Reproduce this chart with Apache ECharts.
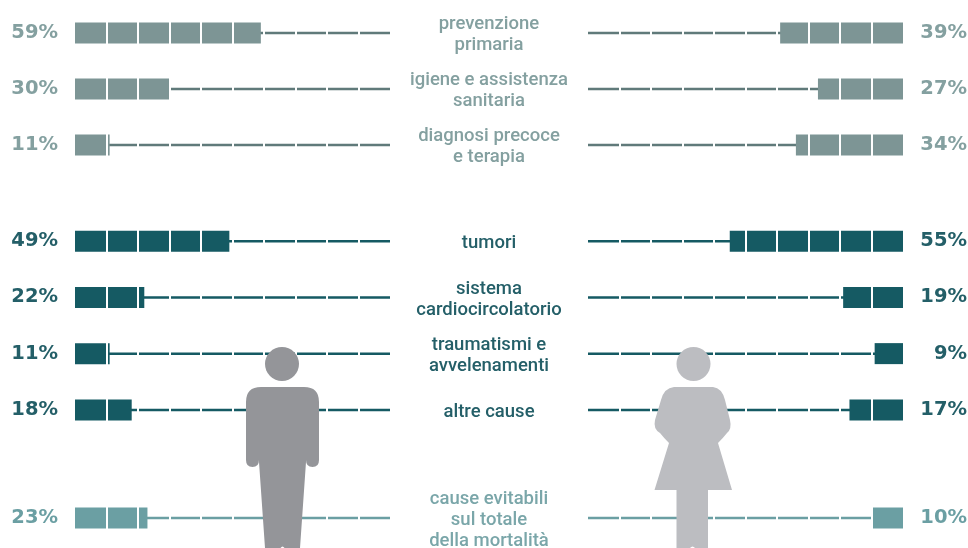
<!DOCTYPE html>
<html>
<head>
<meta charset="utf-8">
<style>html,body{margin:0;padding:0;background:#fff}#c{width:968px;height:548px}</style>
<script src="https://cdn.jsdelivr.net/npm/echarts@6/dist/echarts.min.js"></script>
</head>
<body>
<div id="c"></div>
<script>
const groupACategories = ['prevenzione\nprimaria', 'igiene e assistenza\nsanitaria', 'diagnosi precoce\ne terapia'];
const groupAMen = [59, 30, 11];
const groupAWomen = [39, 27, 34];

const groupBCategories = ['tumori', 'sistema\ncardiocircolatorio', 'traumatismi e\navvelenamenti', 'altre cause'];
const groupBMen = [49, 22, 11, 18];
const groupBWomen = [55, 19, 9, 17];

const groupCCategories = ['cause evitabili\nsul totale\ndella mortalità'];
const groupCMen = [23];
const groupCWomen = [10];

const manBody = 'M261 387 L304 387 Q319 387 319 402 L319 460 Q319 467 312.5 467 Q306 467 306 460 L306 462 L300 548 L284.5 548 Q282.5 545 280.5 548 L265 548 L259 462 L259 460 Q259 467 252.5 467 Q246 467 246 460 L246 402 Q246 387 261 387 Z';
const womanBody = 'M674 387 L713 387 Q722 388 725 400 L730 420 Q732 429 727 433 Q723 438 718 443 L732 490 L708 490 L708 548 L695 548 Q692.5 545 690 548 L676.5 548 L676.5 490 L654.5 490 L669 443 Q664 438 660 433 Q653 429 655 420 L661 400 Q664 388 674 387 Z';

echarts.graphic.registerShape('manBody', echarts.graphic.extendPath(manBody, {}));
echarts.graphic.registerShape('womanBody', echarts.graphic.extendPath(womanBody, {}));

const groups = [
  { cats: groupACategories, men: groupAMen, women: groupAWomen, top: 5, height: 168, fill: '#7d9595', line: '#607a7a', pct: '#84a0a0', text: '#84a0a0' },
  { cats: groupBCategories, men: groupBMen, women: groupBWomen, top: 213, height: 225, fill: '#155a63', line: '#155a63', pct: '#245f68', text: '#245f68' },
  { cats: groupCCategories, men: groupCMen, women: groupCWomen, top: 490, height: 56, fill: '#6b9fa3', line: '#6b9fa3', pct: '#6b9fa3', text: '#7aa6a9' }
];

const grid = [], xAxis = [], yAxis = [], series = [];
const hiddenAxis = { axisLine: { show: false }, axisTick: { show: false }, axisLabel: { show: false }, splitLine: { show: false } };
groups.forEach(function (g) {
  [{ vals: g.men, left: 75, inverse: false, side: 'left' }, { vals: g.women, left: 588, inverse: true, side: 'right' }].forEach(function (s) {
    const i = grid.length;
    grid.push({ left: s.left, width: 315, top: g.top, height: g.height, outerBoundsMode: 'none' });
    xAxis.push(Object.assign({}, hiddenAxis, {
      gridIndex: i, type: 'value', min: 0, max: 100, interval: 10, inverse: s.inverse, z: 5,
      splitLine: { show: true, showMinLine: false, showMaxLine: false, lineStyle: { color: '#ffffff', width: 2 } }
    }));
    yAxis.push(Object.assign({}, hiddenAxis, { gridIndex: i, type: 'category', inverse: true, data: g.cats }));
    series.push({
      type: 'pictorialBar', xAxisIndex: i, yAxisIndex: i, silent: true, z: 2,
      symbol: 'rect', symbolSize: ['100%', 2.5], symbolPosition: 'start',
      itemStyle: { color: g.line },
      label: {
        show: true, position: s.side, distance: s.side === 'left' ? 17 : 64, align: 'right', color: g.pct,
        fontFamily: 'DejaVu Sans', fontWeight: 'bold', fontSize: 19.5,
        formatter: function (p) { return s.vals[p.dataIndex] + '%'; }
      },
      data: s.vals.map(function () { return 100; })
    });
    series.push({
      type: 'bar', xAxisIndex: i, yAxisIndex: i, silent: true, z: 3, barWidth: 21,
      itemStyle: { color: g.fill }, data: s.vals
    });
  });
  // central category names: a label-only axis, sitting in the gap between the two sides
  const j = grid.length;
  grid.push({ left: 489, width: 1, top: g.top + 2, height: g.height, outerBoundsMode: 'none' });
  xAxis.push(Object.assign({}, hiddenAxis, { gridIndex: j, type: 'value', min: 0, max: 100 }));
  yAxis.push(Object.assign({}, hiddenAxis, {
    gridIndex: j, type: 'category', inverse: true, data: g.cats, position: 'left',
    axisLabel: {
      show: true, align: 'center', margin: 0, color: g.text, interval: 0,
      fontFamily: 'Roboto', fontSize: 18.5, fontWeight: 500, lineHeight: 21
    }
  }));
});

const chart = echarts.init(document.getElementById('c'), null, { renderer: 'canvas' });
chart.setOption({
  animation: false,
  backgroundColor: '#ffffff',
  grid: grid, xAxis: xAxis, yAxis: yAxis, series: series,
  graphic: { elements: [
    { type: 'circle', z: 20, shape: { cx: 282, cy: 364, r: 17 }, style: { fill: '#949599' } },
    { type: 'manBody', z: 20, style: { fill: '#949599' } },
    { type: 'circle', z: 20, shape: { cx: 693.5, cy: 364, r: 17 }, style: { fill: '#bcbdc1' } },
    { type: 'womanBody', z: 20, style: { fill: '#bcbdc1' } }
  ] }
});
</script>
</body>
</html>
